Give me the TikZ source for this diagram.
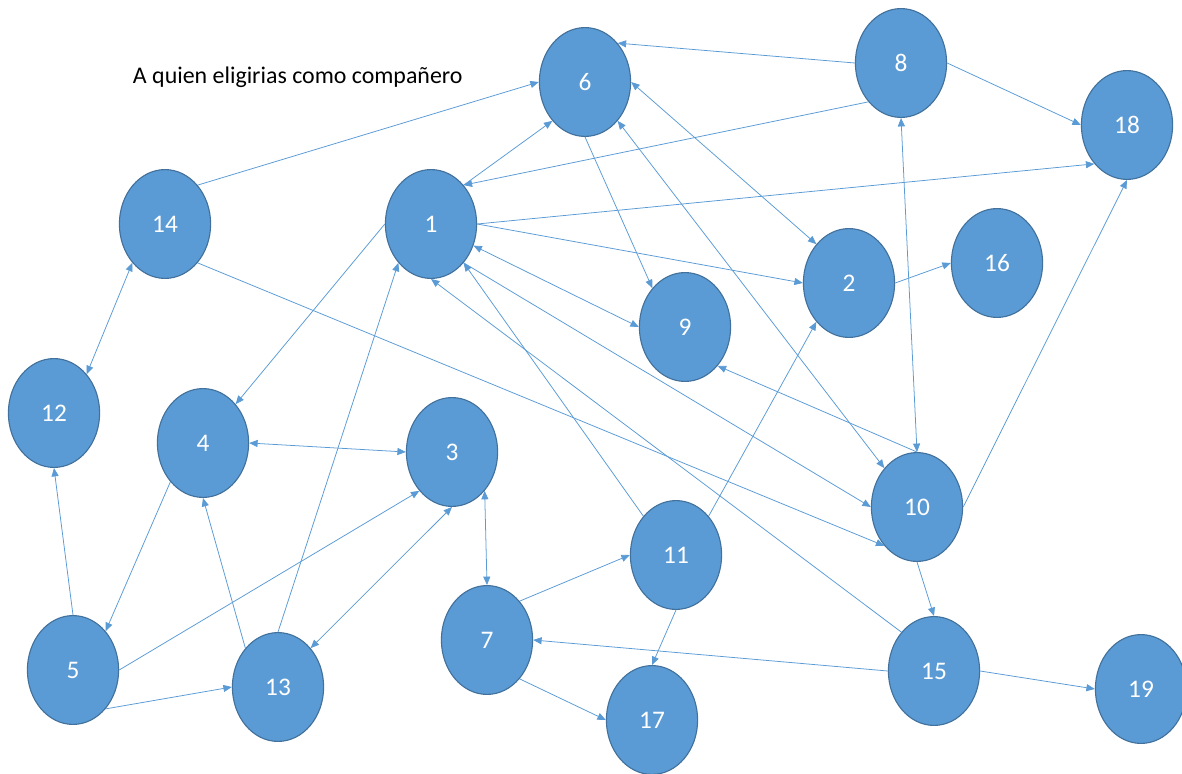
\documentclass[tikz,border=0pt]{standalone}
\usepackage{fontspec}
\setmainfont{Carlito}
\usepackage{tikz,xcolor}
\usetikzlibrary{shapes.geometric,arrows.meta}

\definecolor{officeblue}{HTML}{5B9BD5}
\definecolor{officeedge}{HTML}{41719C}

\begin{document}
\begin{tikzpicture}[x=0.025cm,y=-0.025cm]
  \useasboundingbox (0,0) rectangle (1182,774);
  % Define node and link styles
  \tikzset{pupil/.style={ellipse, draw=officeedge, thick, fill=officeblue, text=white,
      minimum width=2.28cm, minimum height=2.72cm, inner sep=0pt,
      font=\fontsize{18}{21}\selectfont}}
  \tikzset{link/.style={draw=officeblue, line width=0.55pt}}
  \tikzset{tip/.tip={Triangle[length=6pt,width=5pt]}}
  % Title
  \node[anchor=base west, font=\fontsize{17}{20}\selectfont] (title) at (128,84) {A quien eligirias como compañero};
  % Place the pupils
  \node[pupil] (P6) at (585,82) {6};
  \node[pupil] (P8) at (901,63) {8};
  \node[pupil] (P18) at (1127,125) {18};
  \node[pupil] (P14) at (165,224) {14};
  \node[pupil] (P1) at (431,224) {1};
  \node[pupil] (P2) at (849,283) {2};
  \node[pupil] (P16) at (997,263) {16};
  \node[pupil] (P9) at (685,327) {9};
  \node[pupil] (P12) at (54,413) {12};
  \node[pupil] (P4) at (203,443) {4};
  \node[pupil] (P3) at (452,452) {3};
  \node[pupil] (P10) at (917,507) {10};
  \node[pupil] (P11) at (676,555) {11};
  \node[pupil] (P7) at (487,640) {7};
  \node[pupil] (P17) at (652,720) {17};
  \node[pupil] (P5) at (73,670) {5};
  \node[pupil] (P13) at (278,687) {13};
  \node[pupil] (P15) at (934,671) {15};
  \node[pupil] (P19) at (1141,689) {19};
  % One-way choices
  \draw[link,-tip] (P8.west) -- (P6.north east);
  \draw[link,-tip] (P14.north east) -- (P6.west);
  \draw[link,-tip] (P1.north east) -- (P6.south west);
  \draw[link,-tip] (P8.south west) -- (P1.north east);
  \draw[link,-tip] (P6.south) -- (P9.north west);
  \draw[link,-tip] (P8.east) -- (P18.west);
  \draw[link,-tip] (P1.east) -- (P18.south west);
  \draw[link,-tip] (P1.east) -- (P2.west);
  \draw[link,-tip] (P2.east) -- (P16.west);
  \draw[link,-tip] (P10.east) -- (P18.south);
  \draw[link,-tip] (P14.south east) -- (P10.south west);
  \draw[link,-tip] (P1.west) -- (P4.north east);
  \draw[link,-tip] (P10.north) -- (P9.south east);
  \draw[link,-tip] (P1.south east) -- (P10.west);
  \draw[link,-tip] (P11.north west) -- (P1.south east);
  \draw[link,-tip] (P11.north east) -- (P2.south west);
  \draw[link,-tip] (P15.north west) -- (P1.south);
  \draw[link,-tip] (P13.north) -- (P1.south west);
  \draw[link,-tip] (P10.south) -- (P15.north);
  \draw[link,-tip] (P15.east) -- (P19.west);
  \draw[link,-tip] (P15.west) -- (P7.east);
  \draw[link,-tip] (P11.south) -- (P17.north);
  \draw[link,-tip] (P7.north east) -- (P11.west);
  \draw[link,-tip] (P7.south east) -- (P17.west);
  \draw[link,-tip] (P5.east) -- (P3.south west);
  \draw[link,-tip] (P5.north) -- (P12.south);
  \draw[link,-tip] (P4.south west) -- (P5.north east);
  \draw[link,-tip] (P13.north west) -- (P4.south);
  \draw[link,-tip] (P5.south east) -- (P13.west);
  % Mutual choices
  \draw[link,tip-tip] (P6.east) -- (P2.north west);
  \draw[link,tip-tip] (P6.south east) -- (P10.north west);
  \draw[link,tip-tip] (P8.south) -- (P10.north);
  \draw[link,tip-tip] (P14.south west) -- (P12.north east);
  \draw[link,tip-tip] (P1.-27) -- (P9.west);
  \draw[link,tip-tip] (P3.south east) -- (P7.north);
  \draw[link,tip-tip] (P4.east) -- (P3.west);
  \draw[link,tip-tip] (P3.south) -- (P13.north east);
\end{tikzpicture}
\end{document}
